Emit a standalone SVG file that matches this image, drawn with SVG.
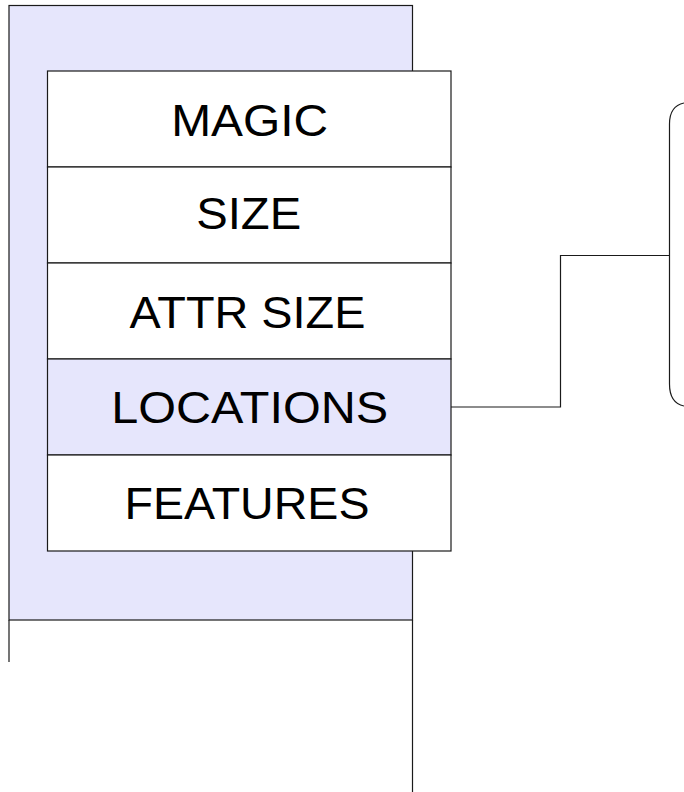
<svg xmlns="http://www.w3.org/2000/svg" width="684" height="792" viewBox="0 0 684 792">
  <style>
    .frame { fill: #e6e6fc; stroke: #1a1a1a; stroke-width: 1.2; }
    .cell { fill: #ffffff; stroke: #1a1a1a; stroke-width: 1.2; }
    .cell.hl { fill: #e6e6fc; }
    .line { fill: none; stroke: #1a1a1a; stroke-width: 1.2; }
    .label { font-family: "Liberation Sans", Arial, sans-serif; font-size: 44px; fill: #000; text-anchor: middle; }
  </style>
  <rect width="684" height="792" fill="#ffffff"/>

  <!-- outer container with its extending side lines -->
  <g id="container">
    <rect class="frame" x="9" y="5.5" width="403.5" height="614.5"/>
    <line class="line" x1="9" y1="620" x2="9" y2="662"/>
    <line class="line" x1="412.5" y1="620" x2="412.5" y2="792"/>
  </g>

  <!-- header fields -->
  <g id="magic">
    <rect class="cell" x="47.5" y="71" width="403.5" height="96"/>
    <text class="label" x="249.7" y="135.5" textLength="157" lengthAdjust="spacingAndGlyphs">MAGIC</text>
  </g>
  <g id="size">
    <rect class="cell" x="47.5" y="167" width="403.5" height="96"/>
    <text class="label" x="248.7" y="229" textLength="105" lengthAdjust="spacingAndGlyphs">SIZE</text>
  </g>
  <g id="attr-size">
    <rect class="cell" x="47.5" y="263" width="403.5" height="96"/>
    <text class="label" x="247.5" y="327.5" textLength="236" lengthAdjust="spacingAndGlyphs">ATTR SIZE</text>
  </g>
  <g id="locations">
    <rect class="cell hl" x="47.5" y="359" width="403.5" height="96"/>
    <text class="label" x="249.7" y="423.2" textLength="277" lengthAdjust="spacingAndGlyphs">LOCATIONS</text>
  </g>
  <g id="features">
    <rect class="cell" x="47.5" y="455" width="403.5" height="96"/>
    <text class="label" x="247" y="519.2" textLength="245" lengthAdjust="spacingAndGlyphs">FEATURES</text>
  </g>

  <!-- bracket grouping -->
  <g id="bracket">
    <path class="line" d="M684,103 Q669.5,106 669.5,124 L669.5,384 Q669.5,403 684,406"/>
  </g>

  <g id="connectors">
    <path class="line" d="M451,407 L560.5,407 L560.5,255.5 L669.5,255.5"/>
  </g>
</svg>
